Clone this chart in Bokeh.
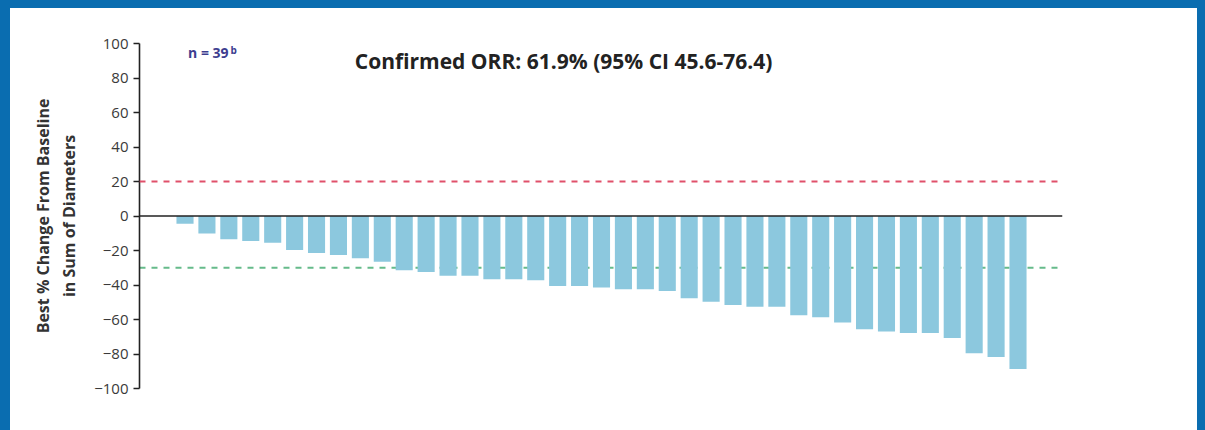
from bokeh.plotting import figure
from bokeh.models import Range1d, Span, Label, ColumnDataSource, FixedTicker
from bokeh.layouts import column
from bokeh.embed import file_html
from bokeh.resources import INLINE

# ---- data ----
patients = list(range(1, 40))
best_change = [-4.5, -10.2, -13.5, -14.5, -15.5, -19.7, -21.4, -22.6, -24.5, -26.5,
               -31.5, -32.5, -34.6, -34.6, -36.7, -36.7, -37.3, -40.6, -40.6, -41.5,
               -42.5, -42.5, -43.5, -47.7, -49.7, -51.6, -52.6, -52.6, -57.6, -58.7,
               -61.8, -65.7, -66.9, -67.8, -67.8, -70.7, -79.6, -81.7, -88.7]
y_ticks = [-100, -80, -60, -40, -20, 0, 20, 40, 60, 80, 100]
progression_threshold = 20
response_threshold = -30
title_text = "Confirmed ORR: 61.9% (95% CI 45.6-76.4)"
n_text = "n = 39"
n_sup = "b"
y_label = "Best % Change From Baseline\nin Sum of Diameters"

source = ColumnDataSource(data=dict(x=patients, y=best_change))

p = figure(width=1187, height=422,
           x_range=Range1d(-1.076, 41.03), y_range=Range1d(-100, 100),
           output_backend="svg", toolbar_location=None,
           min_border_left=129, min_border_right=135,
           min_border_top=35, min_border_bottom=42,
           margin=(8, 8, 0, 10),
           styles={"background-color": "white"})
p.background_fill_color = "white"
p.border_fill_color = "white"
p.outline_line_color = None
p.xgrid.visible = False
p.ygrid.visible = False
p.xaxis.visible = False

ax = p.yaxis[0]
ax.ticker = FixedTicker(ticks=y_ticks)
ax.axis_line_color = "#222222"
ax.axis_line_width = 1.6
ax.major_tick_line_color = "#222222"
ax.major_tick_line_width = 1.5
ax.major_tick_out = 6
ax.major_tick_in = 0
ax.minor_tick_line_color = None
ax.major_label_text_font = "Open Sans"
ax.major_label_text_font_size = "15px"
ax.major_label_text_color = "#3a3a3a"
ax.major_label_standoff = 5
ax.axis_label = y_label
ax.axis_label_text_font = "Open Sans"
ax.axis_label_text_font_style = "bold"
ax.axis_label_text_font_size = "16px"
ax.axis_label_text_color = "#333333"
ax.axis_label_standoff = 11

p.add_layout(Span(location=response_threshold, dimension="width", line_color="#66bb8a",
                  line_width=2, line_dash="6 6", level="underlay"))
p.vbar(x="x", top="y", bottom=0, width=0.78, source=source,
       fill_color="#8cc8de", line_color=None)
p.add_layout(Span(location=progression_threshold, dimension="width", line_color="#e0506a",
                  line_width=2, line_dash="6 6"))
p.add_layout(Span(location=0, dimension="width", line_color="#222222", line_width=1.5))

p.add_layout(Label(x=18.27, y=90, text=title_text, text_align="center",
                   text_baseline="middle", text_font="Open Sans", text_font_style="bold",
                   text_font_size="21px", text_color="#222222"))
p.add_layout(Label(x=1.14, y=94.5, text=n_text, text_align="left",
                   text_baseline="middle", text_font="Open Sans", text_font_style="bold",
                   text_font_size="14px", text_color="#3d3d8f"))
p.add_layout(Label(x=3.07, y=96.5, text=n_sup, text_align="left",
                   text_baseline="middle", text_font="Open Sans", text_font_style="bold",
                   text_font_size="10px", text_color="#3d3d8f"))

layout = column(p, styles={"background-color": "#0a6db0"})

open("out.html", "w").write(file_html(layout, INLINE))
